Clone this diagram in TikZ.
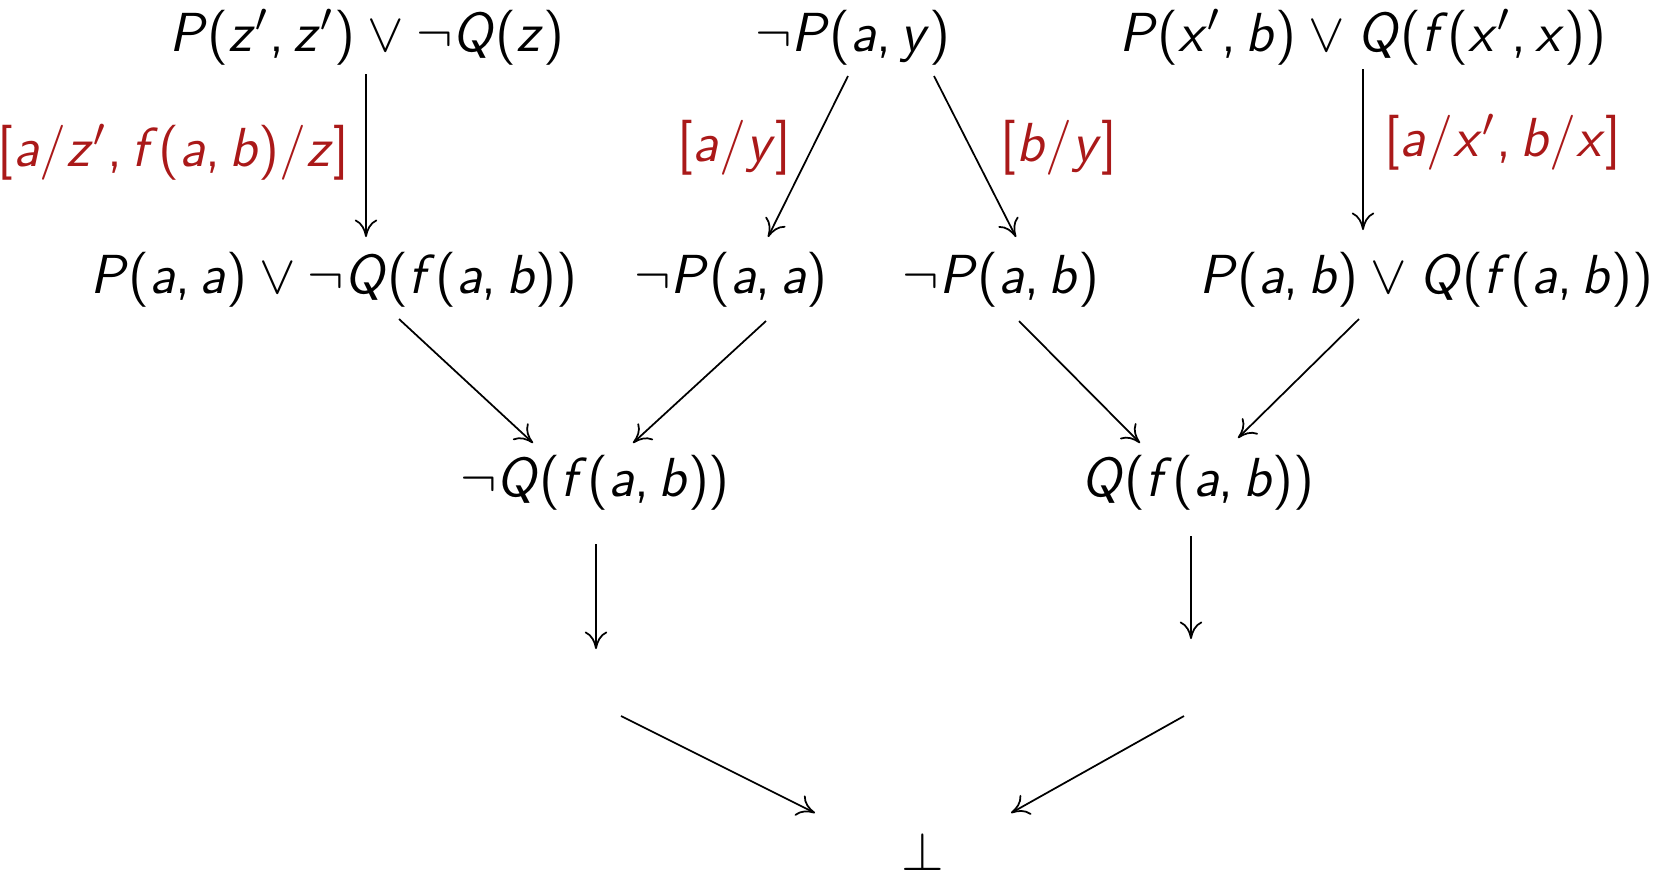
\documentclass[tikz,border=0pt]{standalone}
\usetikzlibrary{arrows.meta}
\definecolor{lbl}{RGB}{170,25,25}
\newcommand\vv[1]{\textit{#1}}
\begin{document}
\begin{tikzpicture}[x=0.2pt,y=-0.2pt,
  every node/.style={font=\sffamily\fontsize{11}{13}\selectfont, inner sep=0pt},
  term/.style={anchor=base},
  lab/.style={anchor=base, text=lbl},
  arr/.style={-{Computer Modern Rightarrow[length=3.5pt,width=4.5pt]}, line width=0.35pt}]
\useasboundingbox (0,0) rectangle (1655,871);
\clip (0,0) rectangle (1655,871);
% terms
\node[term] (t1) at (367,51) {\vv{P}(\vv{z}$'$,\,\vv{z}$'$)${}\vee\neg{}$\vv{Q}(\vv{z})};
\node[term] (t2) at (853,51) {$\neg$\vv{P}(\vv{a},\,\vv{y})};
\node[term] (t3) at (1363,51) {\vv{P}(\vv{x}$'$,\,\vv{b})${}\vee{}$\vv{Q}(\vv{f}(\vv{x}$'$,\,\vv{x}))};
\node[term] (m1) at (334,293) {\vv{P}(\vv{a},\,\vv{a})${}\vee\neg{}$\vv{Q}(\vv{f}(\vv{a},\,\vv{b}))};
\node[term] (m2) at (731,293) {$\neg$\vv{P}(\vv{a},\,\vv{a})};
\node[term] (m3) at (1001,293) {$\neg$\vv{P}(\vv{a},\,\vv{b})};
\node[term] (m4) at (1426,293) {\vv{P}(\vv{a},\,\vv{b})${}\vee{}$\vv{Q}(\vv{f}(\vv{a},\,\vv{b}))};
\node[term] (b1) at (595,496) {$\neg$\vv{Q}(\vv{f}(\vv{a},\,\vv{b}))};
\node[term] (b2) at (1198,496) {\vv{Q}(\vv{f}(\vv{a},\,\vv{b}))};
\node[term] (bot) at (923,870) {$\perp$};
% labels
\node[lab, anchor=base east] (l1) at (350,166) {[\vv{a}/\vv{z}$'$,\,\vv{f}(\vv{a},\,\vv{b})/\vv{z}]};
\node[lab] (l2) at (734,161) {[\vv{a}/\vv{y}]};
\node[lab] (l3) at (1059,161) {[\vv{b}/\vv{y}]};
\node[lab, anchor=base west] (l4) at (1383,156) {[\vv{a}/\vv{x}$'$,\,\vv{b}/\vv{x}]};
% connector ends
\coordinate (s1) at (366,74);   \coordinate (e1) at (366,237);
\coordinate (s2) at (848,76);   \coordinate (e2) at (768,237);
\coordinate (s3) at (934,76);   \coordinate (e3) at (1016,237);
\coordinate (s4) at (1363,69);  \coordinate (e4) at (1363,230);
\coordinate (s5) at (399,319);  \coordinate (e5) at (533,443);
\coordinate (s6) at (766,321);  \coordinate (e6) at (633,443);
\coordinate (s7) at (1019,321); \coordinate (e7) at (1140,443);
\coordinate (s8) at (1359,319); \coordinate (e8) at (1238,438);
\coordinate (s9) at (596,544);  \coordinate (e9) at (596,649);
\coordinate (s10) at (1191,536); \coordinate (e10) at (1191,639);
\coordinate (s11) at (621,716); \coordinate (e11) at (815,813);
\coordinate (s12) at (1184,716); \coordinate (e12) at (1011,813);
\foreach \i in {1,...,12} {\draw[arr] (s\i) -- (e\i);}
\end{tikzpicture}
\end{document}
